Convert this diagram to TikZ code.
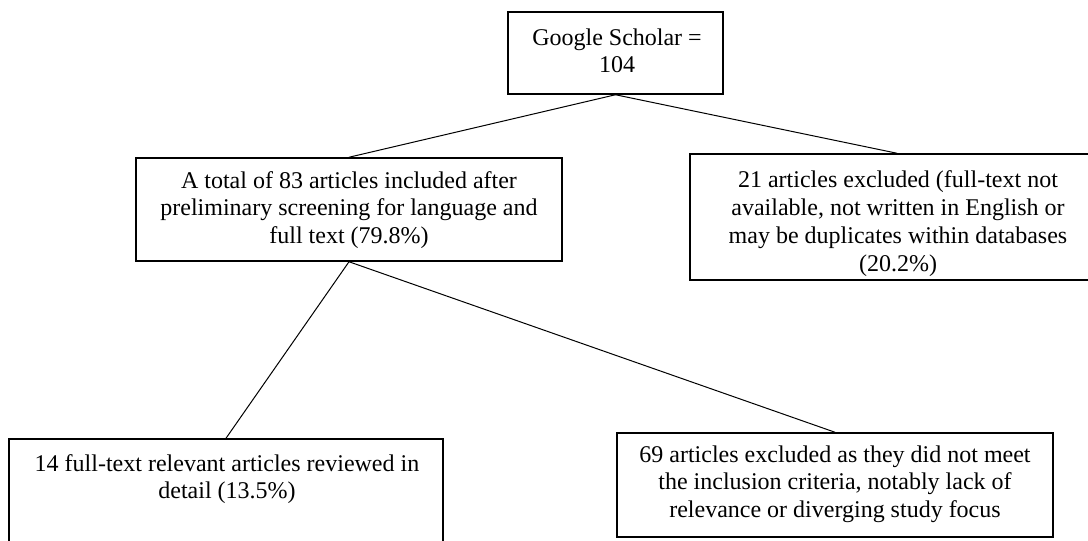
\documentclass[tikz,border=0pt]{standalone}
\usepackage{fontspec}
\setmainfont{Liberation Serif}
\begin{document}
\begin{tikzpicture}[x=1pt,y=-1pt,
  box/.style={draw=black,line width=1.5pt,inner sep=0pt,rectangle},
  txt/.style={inner sep=0pt,align=center,anchor=north,font=\fontsize{24}{27.8}\selectfont},
  link/.style={draw=black,line width=1pt}]
\useasboundingbox (0,0) rectangle (1088,541);
\clip (0,0) rectangle (1088,541);
\fill[white] (0,0) rectangle (1088,541);
% boxes
\node[box,minimum width=215pt,minimum height=82pt] (gs) at (615.5,53) {};
\node[box,minimum width=426pt,minimum height=103pt] (ml) at (349,209.5) {};
\node[box,minimum width=414pt,minimum height=126pt] (mr) at (897,217) {};
\node[box,minimum width=434pt,minimum height=106pt] (bl) at (226,492) {};
\node[box,minimum width=436pt,minimum height=104pt] (br) at (835,485) {};
% texts (north = first baseline - 19.46)
\node[txt] (gst) at (617,25.5) {\strut Google Scholar =\\104};
\node[txt] (mlt) at (349,168.5) {\strut A total of 83 articles included after\\preliminary screening for language and\\full text (79.8\%)};
\node[txt] (mrt) at (898,168) {\strut 21 articles excluded (full-text not\\available, not written in English or\\may be duplicates within databases\\(20.2\%)};
\node[txt] (blt) at (227,451.5) {\strut 14 full-text relevant articles reviewed in\\detail (13.5\%)};
\node[txt] (brt) at (835,442.5) {\strut 69 articles excluded as they did not meet\\the inclusion criteria, notably lack of\\relevance or diverging study focus};
% connectors
\draw[link] (gs.south) -- (ml.north);
\draw[link] (gs.south) -- (mr.north);
\draw[link] (ml.south) -- (bl.north);
\draw[link] (ml.south) -- (br.north);
\end{tikzpicture}
\end{document}
